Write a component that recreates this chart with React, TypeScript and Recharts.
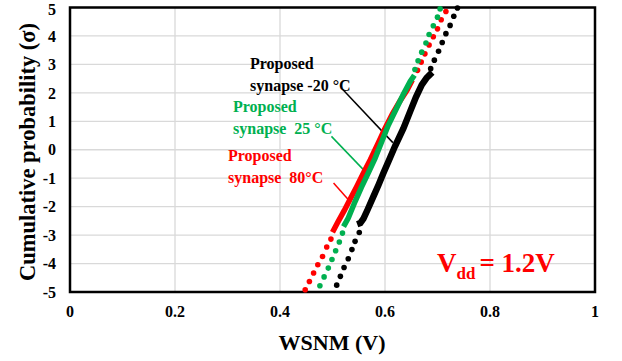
import React from "react";
import {
  CartesianGrid,
  ReferenceArea,
  ReferenceLine,
  Scatter,
  ScatterChart,
  XAxis,
  YAxis,
} from "recharts";

interface Pt {
  x: number;
  y: number;
}

const xTicks = [0, 0.2, 0.4, 0.6, 0.8, 1];
const yTicks = [-5, -4, -3, -2, -1, 0, 1, 2, 3, 4, 5];

// -20 °C (black)
const coldLow: Pt[] = [
  { x: 0.508, y: -4.76 }, { x: 0.515, y: -4.45 }, { x: 0.522, y: -4.14 },
  { x: 0.53, y: -3.83 }, { x: 0.537, y: -3.51 }, { x: 0.543, y: -3.22 },
  { x: 0.551, y: -2.91 },
];
const coldDense: Pt[] = [
  { x: 0.547, y: -2.62 }, { x: 0.553, y: -2.58 }, { x: 0.559, y: -2.42 },
  { x: 0.567, y: -2.1 }, { x: 0.578, y: -1.64 }, { x: 0.588, y: -1.22 },
  { x: 0.597, y: -0.82 }, { x: 0.608, y: -0.35 }, { x: 0.619, y: 0.12 },
  { x: 0.635, y: 0.75 }, { x: 0.648, y: 1.35 }, { x: 0.659, y: 1.85 },
  { x: 0.67, y: 2.28 }, { x: 0.679, y: 2.52 }, { x: 0.686, y: 2.65 },
  { x: 0.69, y: 2.72 },
];
const coldHigh: Pt[] = [
  { x: 0.687, y: 2.85 }, { x: 0.694, y: 3.15 }, { x: 0.702, y: 3.46 },
  { x: 0.709, y: 3.77 }, { x: 0.716, y: 4.08 }, { x: 0.724, y: 4.37 },
  { x: 0.731, y: 4.69 }, { x: 0.738, y: 4.98 },
];

// 25 °C (green)
const roomLow: Pt[] = [
  { x: 0.476, y: -4.78 }, { x: 0.484, y: -4.47 }, { x: 0.492, y: -4.16 },
  { x: 0.499, y: -3.86 }, { x: 0.506, y: -3.55 }, { x: 0.513, y: -3.24 },
  { x: 0.519, y: -2.93 },
];
const roomDense: Pt[] = [
  { x: 0.521, y: -2.7 }, { x: 0.53, y: -2.4 }, { x: 0.543, y: -1.82 },
  { x: 0.555, y: -1.32 }, { x: 0.568, y: -0.82 }, { x: 0.581, y: -0.3 },
  { x: 0.592, y: 0.2 }, { x: 0.606, y: 0.85 }, { x: 0.622, y: 1.46 },
  { x: 0.635, y: 1.95 }, { x: 0.648, y: 2.4 }, { x: 0.656, y: 2.62 },
];
const roomHigh: Pt[] = [
  { x: 0.657, y: 2.82 }, { x: 0.663, y: 3.13 }, { x: 0.67, y: 3.43 },
  { x: 0.678, y: 3.75 }, { x: 0.684, y: 4.05 }, { x: 0.692, y: 4.36 },
  { x: 0.7, y: 4.66 }, { x: 0.705, y: 4.95 },
];

// 80 °C (red)
const hotLow: Pt[] = [
  { x: 0.448, y: -4.92 }, { x: 0.456, y: -4.63 }, { x: 0.464, y: -4.33 },
  { x: 0.472, y: -4.04 }, { x: 0.481, y: -3.75 }, { x: 0.489, y: -3.42 },
  { x: 0.497, y: -3.14 },
];
const hotDense: Pt[] = [
  { x: 0.5, y: -2.9 }, { x: 0.51, y: -2.55 }, { x: 0.522, y: -2.15 },
  { x: 0.533, y: -1.76 }, { x: 0.546, y: -1.3 }, { x: 0.559, y: -0.82 },
  { x: 0.572, y: -0.35 }, { x: 0.587, y: 0.23 }, { x: 0.6, y: 0.75 },
  { x: 0.614, y: 1.25 }, { x: 0.628, y: 1.7 }, { x: 0.642, y: 2.1 },
  { x: 0.652, y: 2.45 },
];
const hotHigh: Pt[] = [
  { x: 0.662, y: 2.79 }, { x: 0.669, y: 3.08 }, { x: 0.676, y: 3.37 },
  { x: 0.684, y: 3.68 }, { x: 0.692, y: 3.97 }, { x: 0.7, y: 4.25 },
  { x: 0.707, y: 4.57 }, { x: 0.716, y: 4.86 },
];

const BLACK = "#000000";
const GREEN = "#00B050";
const RED = "#FF0000";
const FONT = "'Liberation Serif', 'Times New Roman', serif";

const dot = (color: string) => (p: any) =>
  <circle cx={p.cx} cy={p.cy} r={2.8} fill={color} />;
const none = () => <g />;

export default function App() {
  const tickStyle = { fill: "#000", fontSize: 16, fontWeight: "bold", fontFamily: FONT };
  return (
    <div style={{ position: "absolute", left: 0, top: 0 }}>
      <ScatterChart
        width={622}
        height={361}
        margin={{ top: 7.5, right: 27, bottom: 0, left: 0 }}
      >
        <CartesianGrid stroke="#d9d9d9" strokeWidth={1.3} />
        <XAxis
          type="number"
          dataKey="x"
          domain={[0, 1]}
          ticks={xTicks}
          height={69}
          tickLine={false}
          tickSize={0}
          tickMargin={14}
          axisLine={{ stroke: "#000", strokeWidth: 2 }}
          tick={tickStyle}
        />
        <YAxis
          type="number"
          dataKey="y"
          domain={[-5, 5]}
          ticks={yTicks}
          width={70}
          tickLine={false}
          tickSize={0}
          tickMargin={14}
          axisLine={{ stroke: "#000", strokeWidth: 2 }}
          tick={tickStyle}
        />
        <ReferenceArea x1={0} x2={1} y1={-5} y2={5} fill="none" stroke="#000" strokeWidth={2.5} />

        <Scatter data={coldLow} shape={dot(BLACK)} isAnimationActive={false} />
        <Scatter data={coldHigh} shape={dot(BLACK)} isAnimationActive={false} />
        <Scatter data={coldDense} shape={none} line={{ stroke: BLACK, strokeWidth: 6.5 }} isAnimationActive={false} />

        <Scatter data={hotLow} shape={dot(RED)} isAnimationActive={false} />
        <Scatter data={hotHigh} shape={dot(RED)} isAnimationActive={false} />
        <Scatter data={hotDense} shape={none} line={{ stroke: RED, strokeWidth: 5.5 }} isAnimationActive={false} />

        <Scatter data={roomLow} shape={dot(GREEN)} isAnimationActive={false} />
        <Scatter data={roomHigh} shape={dot(GREEN)} isAnimationActive={false} />
        <Scatter data={roomDense} shape={none} line={{ stroke: GREEN, strokeWidth: 5.5 }} isAnimationActive={false} />

        <ReferenceLine segment={[{ x: 0.52, y: 2.11 }, { x: 0.615, y: 0.25 }]} stroke={BLACK} strokeWidth={1.5} />
        <ReferenceLine segment={[{ x: 0.498, y: 0.47 }, { x: 0.562, y: -0.76 }]} stroke={GREEN} strokeWidth={1.5} />
        <ReferenceLine segment={[{ x: 0.502, y: -1.17 }, { x: 0.535, y: -1.85 }]} stroke={RED} strokeWidth={1.5} />

        <g fontFamily={FONT} fontWeight="bold">
          <text x={250} y={69} fontSize={16} fill={BLACK}>Proposed</text>
          <text x={250} y={91} fontSize={16} fill={BLACK}>synapse -20 °C</text>
          <text x={233} y={112} fontSize={16} fill={GREEN}>Proposed</text>
          <text x={233} y={134} fontSize={16} fill={GREEN} style={{ whiteSpace: "pre" }}>synapse  25 °C</text>
          <text x={228} y={161} fontSize={16} fill={RED}>Proposed</text>
          <text x={228} y={183} fontSize={16} fill={RED} style={{ whiteSpace: "pre" }}>synapse  80°C</text>
          <text x={437} y={272} fontSize={27} fill={RED}>
            V<tspan fontSize={17} dy={7}>dd</tspan>
            <tspan dy={-7} dx={4}>= 1.2V</tspan>
          </text>
          <text x={332} y={350} fontSize={22} fill="#000" textAnchor="middle">WSNM (V)</text>
          <text
            x={0}
            y={0}
            fontSize={22.5}
            fill="#000"
            textAnchor="middle"
            transform="translate(35 152) rotate(-90)"
          >
            Cumulative probability (σ)
          </text>
        </g>
      </ScatterChart>
    </div>
  );
}
